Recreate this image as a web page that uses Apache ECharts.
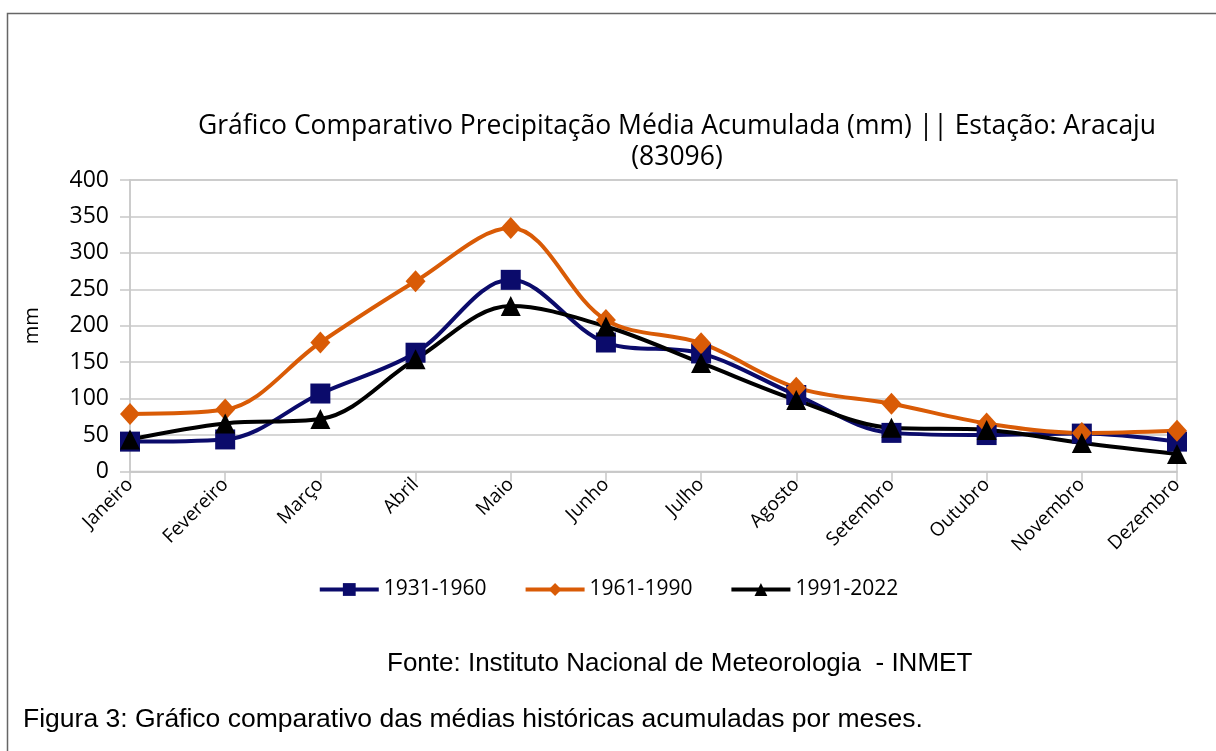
<!DOCTYPE html>
<html>
<head>
<meta charset="utf-8" />
<title>Precipitação Aracaju</title>
<script src="https://cdn.jsdelivr.net/npm/echarts@6/dist/echarts.min.js"></script>
<style>
  html, body { margin: 0; padding: 0; background: #fff; }
</style>
</head>
<body>
<div id="main" style="width: 1216px;height:751px;"></div>
<script type="text/javascript">
// dados
var meses = ['Janeiro', 'Fevereiro', 'Março', 'Abril', 'Maio', 'Junho', 'Julho', 'Agosto', 'Setembro', 'Outubro', 'Novembro', 'Dezembro'];
var p1931_1960 = [41, 44, 107, 163, 263, 177, 162, 105, 53, 50, 52, 41];
var p1961_1990 = [79, 85, 177, 261, 334, 208, 176, 115, 93, 66, 53, 56];
var p1991_2022 = [44, 66, 72, 154, 227, 199, 149, 98, 60, 57, 39, 24];
var yTicks = [0, 50, 100, 150, 200, 250, 300, 350, 400];

var cores = ['#0b0b6b', '#d95b06', '#000000'];
var fonteGrafico = '"Open Sans", "Noto Sans", sans-serif';

var myChart = echarts.init(document.getElementById('main'));

function serie(nome, dados, cor, simbolo, tamanho) {
  return {
    name: nome,
    type: 'line',
    data: dados,
    smooth: 0.35,
    symbol: simbolo,
    symbolSize: tamanho,
    showAllSymbol: true,
    lineStyle: { color: cor, width: 4 },
    itemStyle: { color: cor },
    emphasis: { disabled: true }
  };
}

var option = {
  animation: false,
  backgroundColor: '#fff',
  textStyle: { fontFamily: fonteGrafico },
  title: [{
    text: 'Gráfico Comparativo Precipitação Média Acumulada (mm) || Estação: Aracaju\n(83096)',
    left: 672,
    top: 106,
    textAlign: 'center',
    textStyle: { fontFamily: fonteGrafico, fontSize: 26.5, fontWeight: 'normal', color: '#000', lineHeight: 31 }
  }, {
    text: 'Fonte: Instituto Nacional de Meteorologia  - INMET',
    left: 382,
    top: 646,
    textStyle: { fontFamily: '"Liberation Sans", Arial, sans-serif', fontSize: 26, fontWeight: 'normal', color: '#000' }
  }, {
    text: 'Figura 3: Gráfico comparativo das médias históricas acumuladas por meses.',
    left: 18,
    top: 701,
    textStyle: { fontFamily: '"Liberation Sans", Arial, sans-serif', fontSize: 26.5, fontWeight: 'normal', color: '#000' }
  }],
  graphic: [{
    type: 'polyline',
    shape: { points: [[7.5, 751], [7.5, 13.5], [1216, 13.5]] },
    style: { stroke: '#666', lineWidth: 1.5, fill: null }
  }],
  legend: {
    data: ['1931-1960', '1961-1990', '1991-2022'],
    left: 'center',
    top: 574,
    itemWidth: 59,
    itemHeight: 16,
    itemGap: 37,
    lineStyle: { width: 4 },
    textStyle: { fontFamily: fonteGrafico, fontSize: 21, color: '#000' }
  },
  grid: {
    left: 130,
    right: 39,
    top: 180,
    bottom: 279.5,
    show: true,
    borderColor: '#c8c8c8',
    borderWidth: 1.5
  },
  xAxis: {
    type: 'category',
    data: meses,
    boundaryGap: false,
    axisLine: { lineStyle: { color: '#c8c8c8', width: 1.5 } },
    axisTick: { show: true, length: 10, lineStyle: { color: '#c8c8c8', width: 1.5 } },
    axisLabel: { rotate: 45, fontSize: 19, color: '#000', margin: 10, interval: 0, fontFamily: fonteGrafico },
    splitLine: { show: false }
  },
  yAxis: {
    type: 'value',
    min: yTicks[0],
    max: yTicks[yTicks.length - 1],
    interval: 50,
    name: 'mm',
    nameLocation: 'middle',
    nameGap: 88,
    nameRotate: 90,
    nameTextStyle: { fontSize: 20, color: '#000', fontFamily: fonteGrafico },
    axisLine: { show: true, lineStyle: { color: '#c8c8c8', width: 1.5 } },
    axisTick: { show: true, length: 10, lineStyle: { color: '#c8c8c8', width: 1.5 } },
    axisLabel: { fontSize: 23, color: '#000', margin: 21, fontFamily: fonteGrafico },
    splitLine: { show: true, lineStyle: { color: '#c8c8c8', width: 1.5 } }
  },
  series: [
    serie('1931-1960', p1931_1960, cores[0], 'rect', 20),
    serie('1961-1990', p1961_1990, cores[1], 'diamond', [20, 22]),
    serie('1991-2022', p1991_2022, cores[2], 'triangle', 20)
  ]
};

myChart.setOption(option);
</script>
</body>
</html>
